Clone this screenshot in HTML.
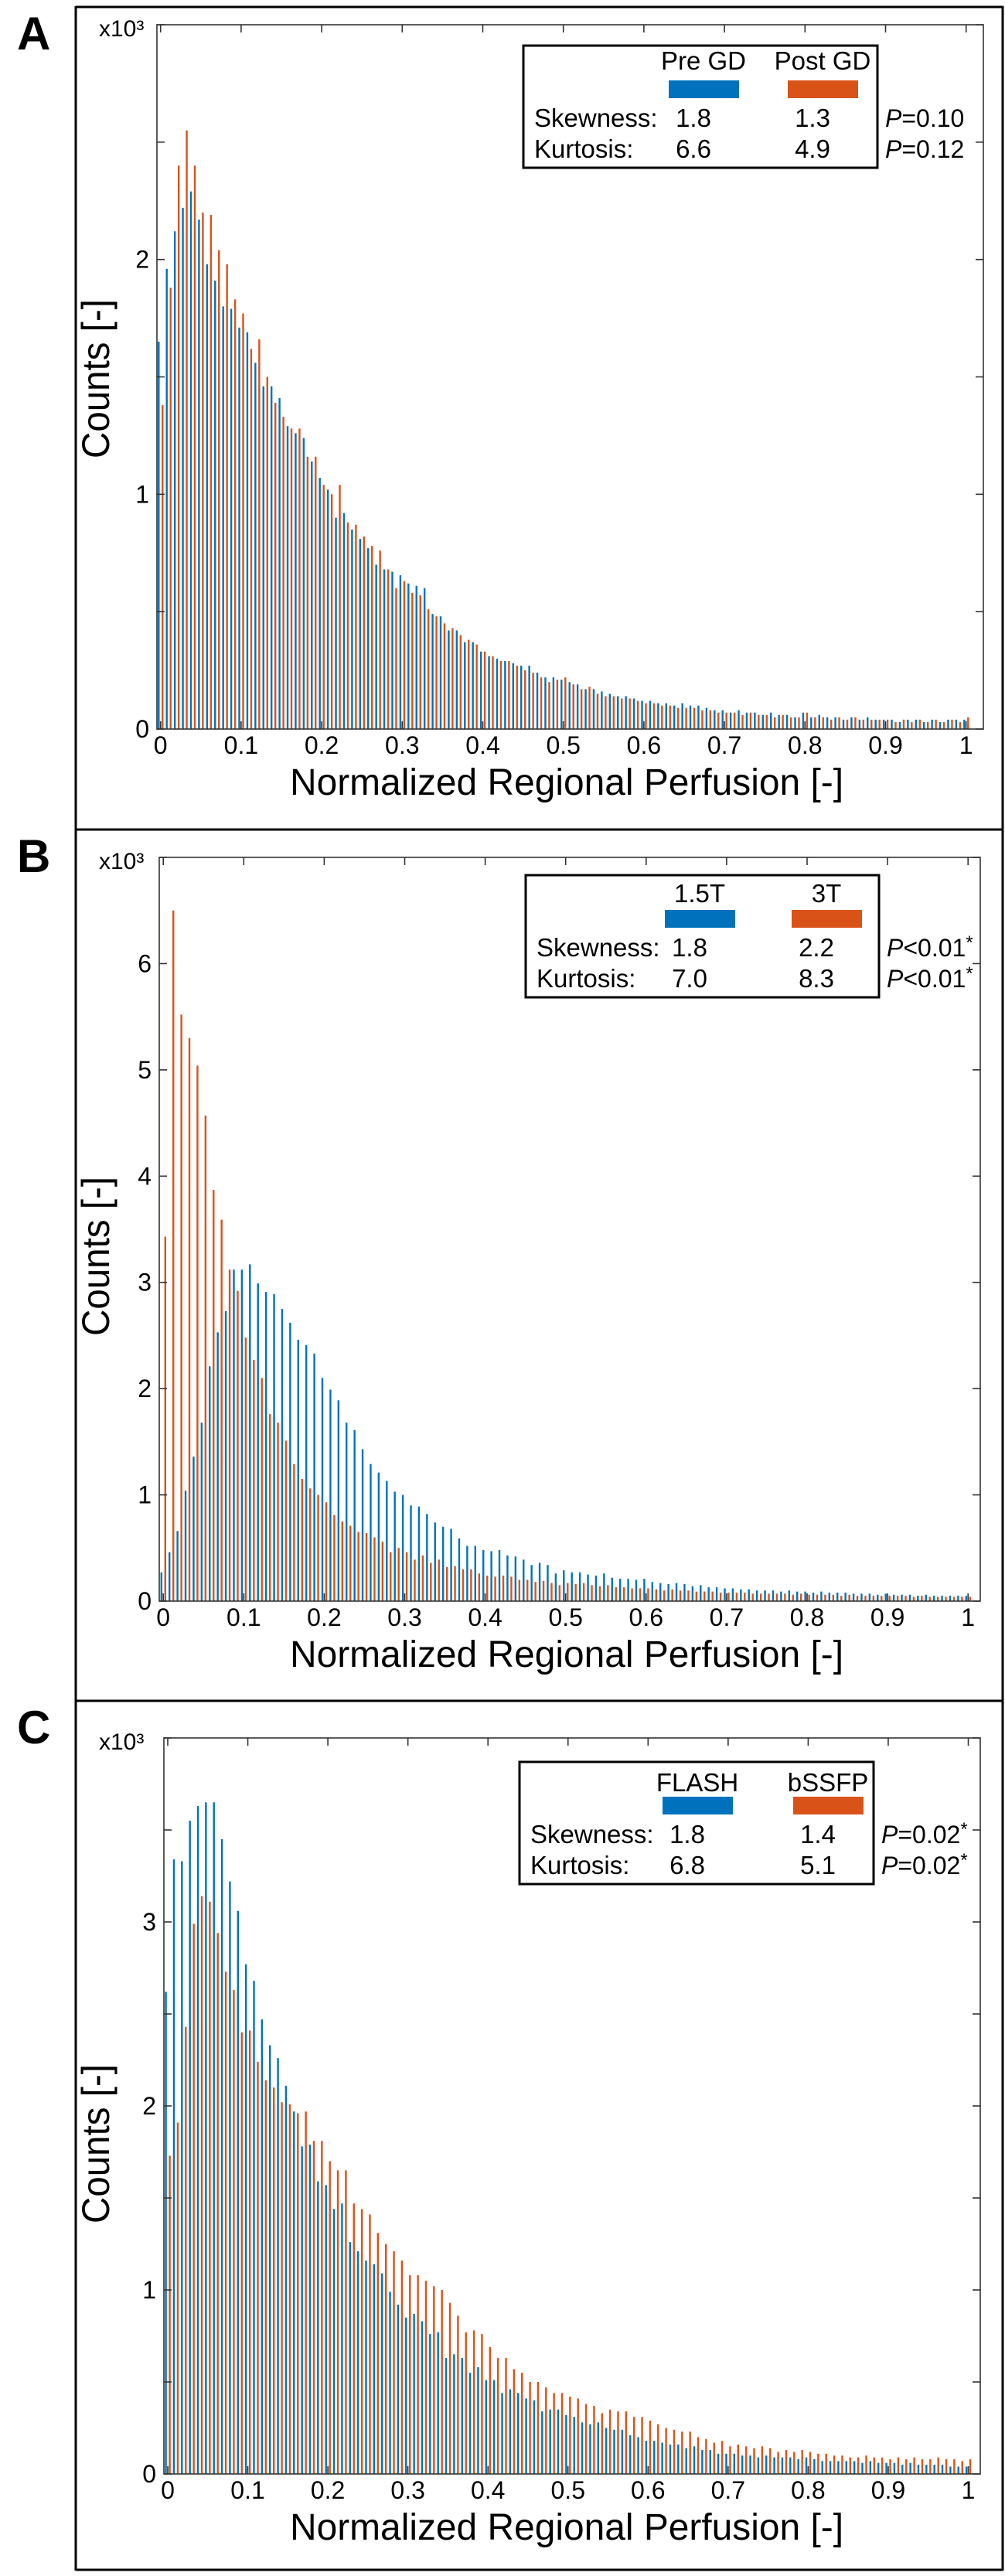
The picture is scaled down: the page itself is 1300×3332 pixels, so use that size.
<!DOCTYPE html>
<html><head><meta charset="utf-8">
<style>
html,body{margin:0;padding:0;background:#fff;}
svg{display:block;font-family:"Liberation Sans",Arial,sans-serif;}
</style></head>
<body>
<svg id="fig" width="1300" height="3332" viewBox="0 0 1300 3332" xmlns="http://www.w3.org/2000/svg">
  <g stroke="#000" stroke-width="3" fill="none">
    <line x1="98" y1="8" x2="98" y2="3325"/>
    <line x1="1297" y1="8" x2="1297" y2="3325"/>
    <line x1="98" y1="9" x2="1297" y2="9"/>
    <line x1="98" y1="1073" x2="1297" y2="1073"/>
    <line x1="98" y1="2200" x2="1297" y2="2200"/>
    <line x1="98" y1="3324" x2="1297" y2="3324"/>
  </g>
  <text x="22" y="64" font-size="60" font-weight="bold">A</text>
  <text x="22" y="1128" font-size="60" font-weight="bold">B</text>
  <text x="22" y="2255" font-size="60" font-weight="bold">C</text>
  <g id="charts"></g>
</svg>
<script>
// ---- shared data ----
const xTickVals = [0,0.1,0.2,0.3,0.4,0.5,0.6,0.7,0.8,0.9,1];
const xTickLabels = ['0','0.1','0.2','0.3','0.4','0.5','0.6','0.7','0.8','0.9','1'];
const binCenters = [];
for (let k = 0; k <= 100; k++) binCenters.push(k / 100);

// ---- Panel A ----
const seriesANames = ['Pre GD','Post GD'];
const valuesAPre = [
1.65,1.96,2.12,2.22,2.29,2.17,1.98,1.91,1.80,1.79,
1.71,1.69,1.56,1.46,1.46,1.41,1.29,1.26,1.24,1.14,
1.07,1.02,0.90,0.92,0.85,0.81,0.77,0.70,0.68,0.67,
0.655,0.62,0.61,0.60,0.49,0.48,0.42,0.42,0.37,0.37,
0.33,0.31,0.30,0.29,0.28,0.27,0.27,0.24,0.22,0.22,
0.21,0.20,0.19,0.17,0.17,0.16,0.15,0.14,0.14,0.13,
0.12,0.12,0.11,0.11,0.10,0.11,0.10,0.10,0.09,0.08,
0.08,0.07,0.08,0.07,0.07,0.06,0.07,0.06,0.06,0.05,
0.07,0.05,0.06,0.05,0.05,0.04,0.05,0.04,0.05,0.04,
0.04,0.04,0.03,0.04,0.04,0.03,0.04,0.03,0.04,0.04,0.04];
const valuesAPost = [
1.38,1.88,2.40,2.55,2.40,2.20,2.19,2.04,1.98,1.83,
1.77,1.62,1.66,1.50,1.39,1.33,1.28,1.28,1.16,1.16,
1.04,1.00,1.04,0.88,0.87,0.82,0.78,0.76,0.68,0.60,
0.63,0.58,0.57,0.51,0.48,0.45,0.43,0.40,0.38,0.36,
0.33,0.31,0.29,0.29,0.27,0.25,0.24,0.22,0.20,0.21,
0.22,0.19,0.17,0.18,0.15,0.14,0.14,0.13,0.13,0.12,
0.11,0.11,0.10,0.10,0.09,0.09,0.09,0.08,0.08,0.07,
0.07,0.07,0.06,0.07,0.06,0.06,0.05,0.06,0.05,0.05,
0.07,0.05,0.05,0.04,0.05,0.04,0.05,0.04,0.04,0.04,
0.04,0.03,0.04,0.03,0.04,0.03,0.04,0.03,0.04,0.03,0.05];
const yTicksA = [0,0.5,1,1.5,2,2.5,3];
const yLabelValsA = [0,1,2];
const statsA = {skew:['1.8','1.3'], kurt:['6.6','4.9'], p:['=0.10','=0.12'], star:false};

// ---- Panel B ----
const seriesBNames = ['1.5T','3T'];
const valuesB15 = [
0.27,0.46,0.66,1.04,1.36,1.68,2.21,2.53,2.73,3.12,
3.12,3.17,2.99,2.91,2.89,2.75,2.62,2.46,2.41,2.33,
2.10,1.99,1.89,1.68,1.61,1.43,1.29,1.21,1.13,1.03,
1.00,0.90,0.89,0.82,0.74,0.70,0.68,0.59,0.52,0.52,
0.48,0.47,0.48,0.43,0.42,0.39,0.34,0.36,0.34,0.26,
0.29,0.27,0.27,0.25,0.24,0.26,0.22,0.21,0.21,0.20,
0.21,0.18,0.17,0.16,0.17,0.16,0.14,0.15,0.13,0.13,
0.12,0.12,0.11,0.11,0.10,0.10,0.10,0.09,0.10,0.09,
0.09,0.08,0.09,0.08,0.08,0.08,0.07,0.07,0.07,0.06,
0.07,0.06,0.06,0.06,0.05,0.06,0.05,0.05,0.05,0.05,0.05];
const valuesB3 = [
3.43,6.50,5.52,5.30,5.04,4.57,3.87,3.59,3.12,2.92,
2.48,2.27,2.10,1.76,1.68,1.51,1.29,1.15,1.06,1.00,
0.93,0.81,0.75,0.71,0.65,0.64,0.60,0.56,0.46,0.50,
0.46,0.39,0.43,0.36,0.39,0.32,0.33,0.30,0.30,0.26,
0.24,0.23,0.24,0.23,0.20,0.20,0.18,0.19,0.17,0.15,
0.17,0.16,0.17,0.15,0.14,0.15,0.13,0.13,0.12,0.12,
0.12,0.11,0.10,0.11,0.10,0.10,0.09,0.09,0.09,0.08,
0.08,0.08,0.08,0.07,0.07,0.07,0.07,0.07,0.06,0.07,
0.06,0.06,0.06,0.06,0.05,0.06,0.05,0.05,0.05,0.05,
0.05,0.05,0.05,0.04,0.05,0.04,0.04,0.04,0.04,0.04,0.04];
const yTicksB = [0,1,2,3,4,5,6,7];
const yLabelValsB = [0,1,2,3,4,5,6];
const statsB = {skew:['1.8','2.2'], kurt:['7.0','8.3'], p:['<0.01','<0.01'], star:true};

// ---- Panel C ----
const seriesCNames = ['FLASH','bSSFP'];
const valuesCFlash = [
2.62,3.34,3.33,3.55,3.63,3.65,3.65,3.45,3.22,3.06,
2.77,2.68,2.47,2.33,2.26,2.11,1.97,1.78,1.79,1.59,
1.57,1.44,1.47,1.26,1.21,1.16,1.14,1.09,0.99,0.92,
0.85,0.87,0.83,0.76,0.77,0.63,0.65,0.63,0.55,0.58,
0.51,0.51,0.44,0.46,0.44,0.41,0.40,0.34,0.35,0.35,
0.32,0.31,0.28,0.27,0.28,0.25,0.24,0.24,0.21,0.20,
0.18,0.18,0.17,0.16,0.16,0.14,0.15,0.13,0.13,0.11,
0.11,0.11,0.10,0.10,0.09,0.10,0.09,0.09,0.09,0.08,
0.09,0.08,0.07,0.07,0.07,0.07,0.07,0.06,0.07,0.06,
0.06,0.06,0.05,0.06,0.05,0.05,0.05,0.05,0.04,0.04,0.04];
const valuesCBssfp = [
1.73,1.91,2.43,2.99,3.14,3.11,2.94,2.73,2.63,2.40,
2.41,2.24,2.14,2.10,2.02,2.01,1.96,1.97,1.81,1.81,
1.70,1.65,1.65,1.47,1.44,1.41,1.31,1.25,1.21,1.16,
1.08,1.08,1.05,1.02,1.00,0.93,0.86,0.77,0.78,0.76,
0.69,0.63,0.63,0.57,0.55,0.50,0.50,0.47,0.44,0.44,
0.42,0.41,0.38,0.37,0.33,0.35,0.34,0.34,0.31,0.31,
0.29,0.27,0.25,0.24,0.23,0.23,0.20,0.19,0.17,0.18,
0.15,0.16,0.15,0.14,0.15,0.14,0.12,0.13,0.12,0.13,
0.12,0.11,0.11,0.10,0.10,0.09,0.09,0.10,0.09,0.09,
0.08,0.09,0.08,0.09,0.08,0.08,0.09,0.08,0.08,0.07,0.08];
const yTicksC = [0,0.5,1,1.5,2,2.5,3,3.5,4];
const yLabelValsC = [0,1,2,3];
const statsC = {skew:['1.8','1.4'], kurt:['6.8','5.1'], p:['=0.02','=0.02'], star:true};

const NS = 'http://www.w3.org/2000/svg';
const root = document.getElementById('charts');
function mk(tag, attrs, parent) {
  const e = document.createElementNS(NS, tag);
  for (const k in attrs) e.setAttribute(k, attrs[k]);
  (parent || root).appendChild(e);
  return e;
}

function drawPanel(id, L, names, s1, s2, yTicks, yLabels, yMax, stats) {
  const g = mk('g', {});
  
  
  const xs = v => L.x0 + v * L.xs;
  const ys = v => L.bottom - v / yMax * (L.bottom - L.top);

  const bars = mk('g', {}, g);
  
  
  const bw = 2.4;
  for (let i = 0; i < binCenters.length; i++) {
    const c = binCenters[i];
    const y1 = ys(s1[i]), y2 = ys(s2[i]);
    const b1 = mk('rect', {x: xs(c) - 2.4 - bw / 2, y: y1, width: bw, height: L.bottom - y1, fill: '#0072BD'}, bars);
    
    
    const b2 = mk('rect', {x: xs(c) + 2.6 - bw / 2, y: y2, width: bw, height: L.bottom - y2, fill: '#D95319'}, bars);
    
    
  }

  const ax = mk('rect', {x: L.left, y: L.top, width: L.right - L.left, height: L.bottom - L.top, fill: 'none', stroke: '#333', 'stroke-width': 1.6}, g);
  
  

  for (let i = 0; i < xTickVals.length; i++) {
    const x = xs(xTickVals[i]);
    mk('line', {x1: x, y1: L.bottom, x2: x, y2: L.bottom - 10, stroke: '#333', 'stroke-width': 1.6}, g);
    mk('line', {x1: x, y1: L.top, x2: x, y2: L.top + 10, stroke: '#333', 'stroke-width': 1.6}, g);
    const t = mk('text', {x: x, y: L.bottom + 32, 'font-size': 32, 'text-anchor': 'middle'}, g);
    t.textContent = xTickLabels[i];
    
    
  }
  for (const v of yTicks) {
    const y = ys(v);
    mk('line', {x1: L.left, y1: y, x2: L.left + 10, y2: y, stroke: '#333', 'stroke-width': 1.6}, g);
    mk('line', {x1: L.right, y1: y, x2: L.right - 10, y2: y, stroke: '#333', 'stroke-width': 1.6}, g);
  }
  for (const v of yLabels) {
    const t = mk('text', {x: L.left - 10, y: ys(v) + 11, 'font-size': 32, 'text-anchor': 'end'}, g);
    t.textContent = String(v);
    
    
  }
  const ex = mk('text', {x: 128, y: L.top + 15, 'font-size': 30}, g);
  ex.textContent = 'x10³';
  
  

  const xt = mk('text', {x: 375, y: L.bottom + 85, 'font-size': 48, textLength: 716, lengthAdjust: 'spacingAndGlyphs'}, g);
  xt.textContent = 'Normalized Regional Perfusion [-]';
  
  
  const yt = mk('text', {x: 0, y: 0, 'font-size': 50, textLength: 206, lengthAdjust: 'spacingAndGlyphs', transform: 'translate(141,' + (L.ycenter + 103) + ') rotate(-90)'}, g);
  yt.textContent = 'Counts [-]';
  
  

  const lg = mk('g', {}, g);
  
  
  const B = L.leg;
  mk('rect', {x: B.x, y: B.y, width: B.w, height: 158, fill: '#fff', stroke: '#000', 'stroke-width': 3}, lg);
  const cols = [B.c1, B.c2], colors = ['#0072BD', '#D95319'];
  for (let j = 0; j < 2; j++) {
    const h = mk('text', {x: cols[j], y: B.y + B.hb, 'font-size': 33, 'text-anchor': 'middle'}, lg);
    h.textContent = names[j];
    
    
    const sw = mk('rect', {x: cols[j] - 45, y: B.y + 45, width: 91, height: 23, fill: colors[j]}, lg);
    
    
    const sv = mk('text', {x: cols[j] - 13, y: B.y + 105, 'font-size': 33, 'text-anchor': 'middle'}, lg);
    sv.textContent = stats.skew[j];
    
    
    const kv = mk('text', {x: cols[j] - 13, y: B.y + 145, 'font-size': 33, 'text-anchor': 'middle'}, lg);
    kv.textContent = stats.kurt[j];
    
    
  }
  const sk = mk('text', {x: B.x + 14, y: B.y + 105, 'font-size': 33}, lg);
  sk.textContent = 'Skewness:';
  
  
  const ku = mk('text', {x: B.x + 14, y: B.y + 145, 'font-size': 33}, lg);
  ku.textContent = 'Kurtosis:';
  
  
  for (let j = 0; j < 2; j++) {
    const p = mk('text', {x: B.x + B.w + 10, y: B.y + 105 + 40 * j, 'font-size': 32}, g);
    p.innerHTML = '<tspan font-style="italic">P</tspan>' + stats.p[j] + (stats.star ? '<tspan dy="-10" font-size="24">*</tspan>' : '');
    
    
  }
}

drawPanel('a', {left: 203, right: 1272, top: 32, bottom: 943, x0: 207.7, xs: 1042, ycenter: 490,
  leg: {x: 677, y: 59, w: 458, c1: 910, c2: 1064, hb: 31}}, seriesANames, valuesAPre, valuesAPost, yTicksA, yLabelValsA, 3, statsA);
drawPanel('b', {left: 206, right: 1268, top: 1109, bottom: 2071, x0: 211.2, xs: 1041, ycenter: 1625,
  leg: {x: 680, y: 1132, w: 457, c1: 905, c2: 1069, hb: 35}}, seriesBNames, valuesB15, valuesB3, yTicksB, yLabelValsB, 7, statsB);
drawPanel('c', {left: 212, right: 1268, top: 2248, bottom: 3200, x0: 217, xs: 1035.5, ycenter: 2773,
  leg: {x: 672, y: 2279, w: 458, c1: 902, c2: 1071, hb: 38}}, seriesCNames, valuesCFlash, valuesCBssfp, yTicksC, yLabelValsC, 4, statsC);
</script>
</body></html>
